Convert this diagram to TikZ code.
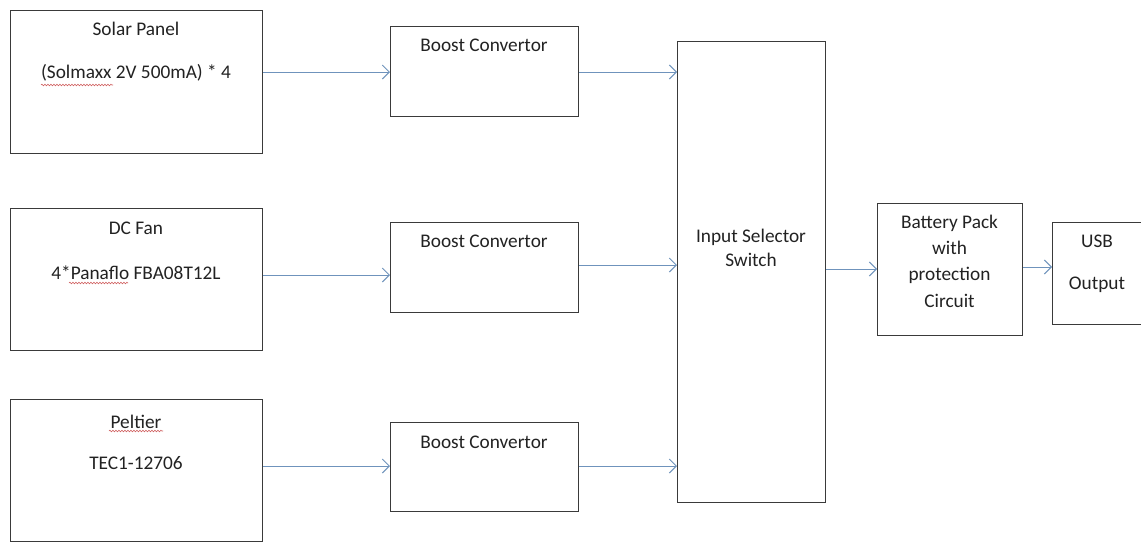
\documentclass[tikz,border=0pt]{standalone}
\usepackage{fontspec}
\setmainfont{Carlito}
\usetikzlibrary{arrows.meta,decorations.pathmorphing}
\definecolor{boxline}{HTML}{3A3A3A}
\definecolor{arrowcol}{HTML}{6F93BC}
\definecolor{txtcol}{HTML}{222222}
\definecolor{squig}{HTML}{D06060}
\begin{document}
\begin{tikzpicture}[x=1pt,y=-1pt,
  blk/.style={draw=boxline,line width=1.2pt,fill=white,inner sep=0pt,anchor=north west},
  txt/.style={text=txtcol,font=\fontsize{19.3}{23.5}\selectfont,inner sep=0pt,align=center},
  conn/.style={draw=arrowcol,line width=1pt,-{Straight Barb[length=7pt,width=14pt,line width=1pt]}},
  spell/.style={draw=squig,line width=0.6pt,decorate,decoration={snake,amplitude=0.8pt,segment length=3pt}}]
\useasboundingbox (0,0) rectangle (1141,542);
\fill[white] (0,0) rectangle (1141,542);
% boxes
\node[blk,minimum width=252pt,minimum height=143pt] (solar) at (10,10) {};
\node[blk,minimum width=252pt,minimum height=142pt] (fan) at (10,208) {};
\node[blk,minimum width=252pt,minimum height=142pt] (pelt) at (10,399) {};
\node[blk,minimum width=188pt,minimum height=90pt] (b1) at (390,26) {};
\node[blk,minimum width=188pt,minimum height=90pt] (b2) at (390,222) {};
\node[blk,minimum width=188pt,minimum height=89pt] (b3) at (390,422) {};
\node[blk,minimum width=148pt,minimum height=461pt] (sel) at (677,41) {};
\node[blk,minimum width=145pt,minimum height=132pt] (bat) at (877,203) {};
\node[blk,minimum width=89pt,minimum height=102pt] (usb) at (1052,222) {};
% texts
\node[txt] (solarT1) at (136,29) {Solar Panel};
\node[txt] (solarT2) at (136,73) {(Solmaxx 2V 500mA) * 4};
\node[txt] (fanT1) at (136,228) {DC Fan};
\node[txt] (fanT2) at (136,273) {4*Panaflo FBA08T12L};
\node[txt] (peltT1) at (136,422) {Peltier};
\node[txt] (peltT2) at (136,463) {TEC1-12706};
\node[txt] (b1T) at (484,45) {Boost Convertor};
\node[txt] (b2T) at (484,241) {Boost Convertor};
\node[txt] (b3T) at (484,442) {Boost Convertor};
\node[txt] (selT) at (751,248) {Input Selector\\Switch};
\node[txt,font=\fontsize{19.3}{26.3}\selectfont] (batT) at (949.5,261) {Battery Pack\\with\\protection\\Circuit};
\node[txt] (usbT1) at (1097,241) {USB};
\node[txt] (usbT2) at (1097,285) {Output};
% spell-check squiggles
\draw[spell] (41,85) -- (113,85);
\draw[spell] (69,283) -- (128,283);
\draw[spell] (109,431) -- (163,431);
% connector rows
\coordinate (r1) at (0,72);
\coordinate (r2a) at (0,275);
\coordinate (r2b) at (0,265);
\coordinate (r3) at (0,466);
\coordinate (r4) at (0,269);
\coordinate (r5) at (0,267);
\draw[conn] (solar.east |- r1) -- (b1.west |- r1);
\draw[conn] (b1.east |- r1) -- (sel.west |- r1);
\draw[conn] (fan.east |- r2a) -- (b2.west |- r2a);
\draw[conn] (b2.east |- r2b) -- (sel.west |- r2b);
\draw[conn] (pelt.east |- r3) -- (b3.west |- r3);
\draw[conn] (b3.east |- r3) -- (sel.west |- r3);
\draw[conn] (sel.east |- r4) -- (bat.west |- r4);
\draw[conn] (bat.east |- r5) -- (usb.west |- r5);
\end{tikzpicture}
\end{document}
